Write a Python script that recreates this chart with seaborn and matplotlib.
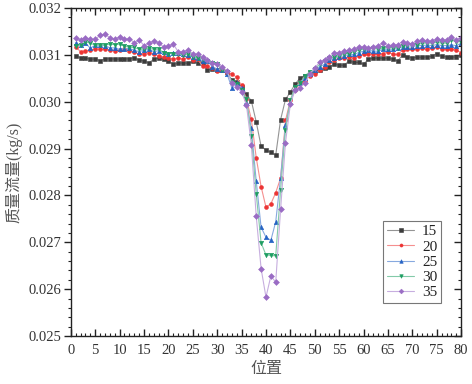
import numpy as np
import pandas as pd
import matplotlib
matplotlib.use("Agg")
import matplotlib.pyplot as plt
import seaborn as sns
from matplotlib.ticker import MultipleLocator, FormatStrFormatter
from matplotlib.colors import to_rgb

positions = list(range(1, 81))

v15 = [0.03098, 0.03094, 0.03093, 0.03091, 0.03091, 0.03088, 0.03091, 0.03092, 0.03091, 0.03091,
       0.03091, 0.03092, 0.03094, 0.03089, 0.03087, 0.03083, 0.03091, 0.03093, 0.03091, 0.03087,
       0.03080, 0.03082, 0.03083, 0.03082, 0.03086, 0.03082, 0.03083, 0.03068, 0.03069, 0.03068,
       0.03068, 0.03064, 0.03046, 0.03043, 0.03032, 0.03016, 0.03002, 0.02957, 0.02905, 0.02897,
       0.02892, 0.02886, 0.02962, 0.03005, 0.03021, 0.03038, 0.03051, 0.03055, 0.03062, 0.03065,
       0.03068, 0.03072, 0.03075, 0.03080, 0.03078, 0.03078, 0.03087, 0.03084, 0.03084, 0.03080,
       0.03091, 0.03093, 0.03093, 0.03093, 0.03093, 0.03091, 0.03087, 0.03100, 0.03096, 0.03094,
       0.03095, 0.03095, 0.03096, 0.03097, 0.03103, 0.03097, 0.03096, 0.03096, 0.03095, 0.03100]

v20 = [0.03117, 0.03107, 0.03109, 0.03110, 0.03113, 0.03112, 0.03112, 0.03110, 0.03109, 0.03110,
       0.03112, 0.03109, 0.03107, 0.03101, 0.03103, 0.03105, 0.03103, 0.03098, 0.03095, 0.03094,
       0.03091, 0.03093, 0.03091, 0.03095, 0.03089, 0.03091, 0.03076, 0.03076, 0.03071, 0.03066,
       0.03068, 0.03062, 0.03060, 0.03052, 0.03035, 0.03005, 0.02963, 0.02881, 0.02819, 0.02775,
       0.02782, 0.02806, 0.02837, 0.02960, 0.03004, 0.03025, 0.03039, 0.03045, 0.03055, 0.03060,
       0.03068, 0.03075, 0.03084, 0.03089, 0.03093, 0.03093, 0.03096, 0.03093, 0.03098, 0.03101,
       0.03103, 0.03101, 0.03101, 0.03103, 0.03107, 0.03101, 0.03101, 0.03110, 0.03112, 0.03112,
       0.03112, 0.03114, 0.03112, 0.03115, 0.03117, 0.03112, 0.03112, 0.03112, 0.03110, 0.03105]

v25 = [0.03125, 0.03121, 0.03126, 0.03114, 0.03121, 0.03121, 0.03120, 0.03115, 0.03115, 0.03112,
       0.03113, 0.03114, 0.03110, 0.03107, 0.03110, 0.03112, 0.03107, 0.03109, 0.03107, 0.03103,
       0.03105, 0.03105, 0.03102, 0.03100, 0.03095, 0.03093, 0.03087, 0.03087, 0.03075, 0.03070,
       0.03068, 0.03060, 0.03030, 0.03040, 0.03030, 0.03000, 0.02943, 0.02831, 0.02732, 0.02711,
       0.02704, 0.02744, 0.02838, 0.02950, 0.03000, 0.03030, 0.03040, 0.03050, 0.03060, 0.03068,
       0.03075, 0.03080, 0.03089, 0.03093, 0.03096, 0.03098, 0.03101, 0.03101, 0.03105, 0.03108,
       0.03110, 0.03108, 0.03108, 0.03112, 0.03112, 0.03112, 0.03114, 0.03117, 0.03117, 0.03117,
       0.03120, 0.03120, 0.03121, 0.03120, 0.03122, 0.03120, 0.03120, 0.03121, 0.03120, 0.03125]

v30 = [0.03119, 0.03121, 0.03128, 0.03125, 0.03121, 0.03121, 0.03121, 0.03123, 0.03122, 0.03123,
       0.03119, 0.03116, 0.03116, 0.03112, 0.03112, 0.03114, 0.03112, 0.03112, 0.03105, 0.03103,
       0.03103, 0.03102, 0.03100, 0.03102, 0.03096, 0.03094, 0.03091, 0.03087, 0.03083, 0.03080,
       0.03068, 0.03064, 0.03043, 0.03037, 0.03025, 0.03005, 0.02927, 0.02804, 0.02699, 0.02673,
       0.02672, 0.02671, 0.02812, 0.02940, 0.03004, 0.03032, 0.03039, 0.03056, 0.03064, 0.03070,
       0.03080, 0.03088, 0.03093, 0.03095, 0.03098, 0.03103, 0.03103, 0.03107, 0.03110, 0.03112,
       0.03112, 0.03114, 0.03112, 0.03114, 0.03115, 0.03115, 0.03115, 0.03120, 0.03121, 0.03121,
       0.03122, 0.03125, 0.03125, 0.03125, 0.03127, 0.03125, 0.03125, 0.03132, 0.03128, 0.03128]

v35 = [0.03137, 0.03132, 0.03137, 0.03133, 0.03133, 0.03142, 0.03144, 0.03137, 0.03133, 0.03139,
       0.03133, 0.03135, 0.03126, 0.03132, 0.03120, 0.03125, 0.03130, 0.03126, 0.03117, 0.03119,
       0.03123, 0.03107, 0.03107, 0.03110, 0.03103, 0.03101, 0.03096, 0.03089, 0.03082, 0.03080,
       0.03075, 0.03066, 0.03039, 0.03031, 0.03021, 0.02993, 0.02908, 0.02756, 0.02644, 0.02583,
       0.02628, 0.02615, 0.02771, 0.02913, 0.02995, 0.03026, 0.03030, 0.03040, 0.03060, 0.03072,
       0.03085, 0.03090, 0.03096, 0.03105, 0.03105, 0.03108, 0.03110, 0.03112, 0.03117, 0.03117,
       0.03115, 0.03117, 0.03120, 0.03125, 0.03120, 0.03121, 0.03122, 0.03128, 0.03125, 0.03123,
       0.03130, 0.03132, 0.03130, 0.03130, 0.03134, 0.03132, 0.03132, 0.03139, 0.03132, 0.03137]

series_labels = ["15", "20", "25", "30", "35"]
series_values = [v15, v20, v25, v30, v35]
colors = ["#3c3c3c", "#ec3434", "#2563c4", "#1e9e62", "#9a6cc4"]
markers = ["s", "o", "^", "v", "D"]
msizes = [2.8, 2.8, 3.2, 3.2, 3.0]

xticks = list(range(0, 81, 5))

rows = []
for lab, vals in zip(series_labels, series_values):
    for p, v in zip(positions, vals):
        rows.append({"pos": p, "flow": v, "series": lab})
df = pd.DataFrame(rows)

sns.set_theme(style="white")
plt.rcParams["font.family"] = ["Liberation Serif", "Noto Sans CJK SC"]

fig = plt.figure(figsize=(4.72, 3.84), dpi=100)
ax = fig.add_axes([0.150, 0.125, 0.827, 0.854])


def lighten(c, f=0.45):
    r, g, b = to_rgb(c)
    return (r + (1 - r) * f, g + (1 - g) * f, b + (1 - b) * f)


for lab, c, m, ms in zip(series_labels, colors, markers, msizes):
    sub = df[df["series"] == lab]
    sns.lineplot(data=sub, x="pos", y="flow", ax=ax, color=lighten(c), linewidth=0.8,
                 marker=m, markersize=ms, markerfacecolor=c, markeredgecolor=c,
                 markeredgewidth=0.4, label=lab, estimator=None, sort=False)

ax.set_xlim(0, 80)
ax.set_ylim(0.025, 0.032)
ax.set_xticks(xticks)
ax.xaxis.set_minor_locator(MultipleLocator(1))
ax.yaxis.set_major_locator(MultipleLocator(0.001))
ax.yaxis.set_minor_locator(MultipleLocator(0.0002))
ax.yaxis.set_major_formatter(FormatStrFormatter("%.3f"))

for s in ax.spines.values():
    s.set_visible(True)
    s.set_color("#222222")
    s.set_linewidth(1.0)

ax.tick_params(axis="x", which="both", direction="in", top=True, bottom=True,
               colors="#222222", labelcolor="#333333", labelsize=10.5, pad=6)
ax.tick_params(axis="y", which="both", direction="out", left=True, right=False,
               colors="#222222", labelcolor="#333333", labelsize=10.5, pad=2)
ax.tick_params(which="major", length=5, width=1.0)
ax.tick_params(which="minor", length=2.5, width=0.8)
ax2 = ax.secondary_yaxis("right")
ax2.yaxis.set_major_locator(MultipleLocator(0.001))
ax2.yaxis.set_minor_locator(MultipleLocator(0.0002))
ax2.tick_params(which="both", direction="in", colors="#222222", labelright=False)
ax2.tick_params(which="major", length=5, width=1.0)
ax2.tick_params(which="minor", length=2.5, width=0.8)
ax2.spines["right"].set_visible(False)

ax.set_xlabel("位置", fontsize=11.5, color="#555555", labelpad=3)
ax.set_ylabel("质量流量(kg/s)", fontsize=11.5, color="#555555", labelpad=4)
ax.grid(False)

leg = ax.legend(loc="lower left", bbox_to_anchor=(0.80, 0.10), frameon=True, fancybox=False,
                edgecolor="#777777", framealpha=1, fontsize=11, handlelength=1.8,
                borderpad=0.25, labelspacing=0.1, handletextpad=0.5, borderaxespad=0.0,
                markerscale=0.8)
leg.get_frame().set_linewidth(0.8)
for t in leg.get_texts():
    t.set_color("#222222")

fig.savefig("out.png", dpi=100)
